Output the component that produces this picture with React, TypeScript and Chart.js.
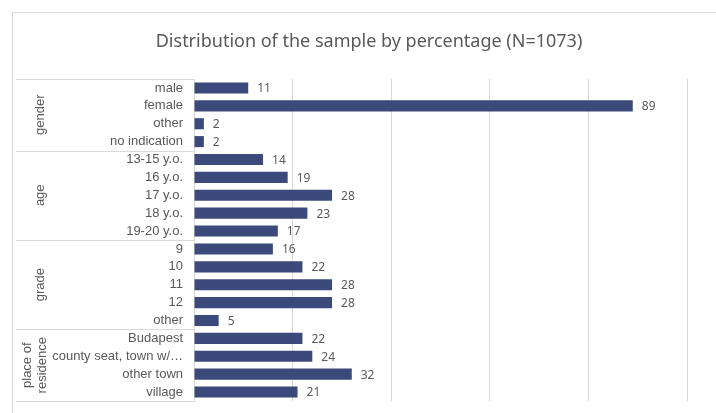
import React, { useEffect, useRef } from "react";
import { Chart, registerables } from "chart.js";

Chart.register(...registerables);

const chartTitle = "Distribution of the sample by percentage (N=1073)";

const categories = [
  "male",
  "female",
  "other",
  "no indication",
  "13-15 y.o.",
  "16 y.o.",
  "17 y.o.",
  "18 y.o.",
  "19-20 y.o.",
  "9",
  "10",
  "11",
  "12",
  "other",
  "Budapest",
  "county seat, town w/…",
  "other town",
  "village",
];

const percentages = [11, 89, 2, 2, 14, 19, 28, 23, 17, 16, 22, 28, 28, 5, 22, 24, 32, 21];

// Outer grouping of the category axis
const groupNames: string[][] = [["gender"], ["age"], ["grade"], ["place of", "residence"]];
const groupSizes = [4, 5, 5, 4];

const xTicks = [0, 20, 40, 60, 80, 100];

const BAR_COLOR = "#3b4a7a";
const LINE_COLOR = "#d9d9d9";
const TEXT_COLOR = "#595959";

const decorations = {
  id: "decorations",
  beforeDraw(chart: any) {
    const { ctx } = chart;
    ctx.save();
    // chart frame
    ctx.strokeStyle = LINE_COLOR;
    ctx.lineWidth = 1;
    ctx.strokeRect(12.5, 12.5, chart.width + 20, chart.height + 20);
    // title
    ctx.fillStyle = TEXT_COLOR;
    ctx.font = "18px 'Noto Sans'";
    ctx.textAlign = "center";
    ctx.textBaseline = "middle";
    ctx.fillText(chartTitle, 369, 42);
    ctx.restore();
  },
  afterDraw(chart: any) {
    const { ctx, chartArea } = chart;
    const yScale = chart.scales.y;
    const left = 16;
    const right = chartArea.left;
    ctx.save();
    ctx.strokeStyle = LINE_COLOR;
    ctx.lineWidth = 1;
    const half = (yScale.getPixelForValue(1) - yScale.getPixelForValue(0)) / 2;
    let start = 0;
    const bounds: number[] = [yScale.getPixelForValue(0) - half];
    groupSizes.forEach((n) => {
      start += n;
      bounds.push(yScale.getPixelForValue(start - 1) + half);
    });
    bounds.forEach((b) => {
      const yy = Math.round(b) + 0.5;
      ctx.beginPath();
      ctx.moveTo(left, yy);
      ctx.lineTo(right, yy);
      ctx.stroke();
    });
    // rotated group names
    ctx.fillStyle = TEXT_COLOR;
    ctx.font = "13px 'Liberation Sans'";
    ctx.textAlign = "center";
    ctx.textBaseline = "middle";
    groupNames.forEach((lines, i) => {
      const cy = (bounds[i] + bounds[i + 1]) / 2;
      const lh = 15;
      const cx = lines.length > 1 ? 34.5 - ((lines.length - 1) * lh) / 2 : 40;
      lines.forEach((line, j) => {
        ctx.save();
        ctx.translate(cx + j * lh, cy);
        ctx.rotate(-Math.PI / 2);
        ctx.fillText(line, 0, 0);
        ctx.restore();
      });
    });
    ctx.restore();
  },
  afterDatasetsDraw(chart: any) {
    const { ctx } = chart;
    const meta = chart.getDatasetMeta(0);
    ctx.save();
    ctx.fillStyle = TEXT_COLOR;
    ctx.font = "12px 'Noto Sans'";
    ctx.textAlign = "left";
    ctx.textBaseline = "middle";
    meta.data.forEach((bar: any, i: number) => {
      ctx.fillText(String(percentages[i]), bar.x + 9, bar.y + 1);
    });
    ctx.restore();
  },
};

export default function App() {
  const canvasRef = useRef<HTMLCanvasElement | null>(null);

  useEffect(() => {
    if (!canvasRef.current) return;
    const chart = new Chart(canvasRef.current, {
      type: "bar",
      data: {
        labels: categories,
        datasets: [
          {
            data: percentages,
            backgroundColor: BAR_COLOR,
            borderWidth: 0,
            barPercentage: 0.62,
            categoryPercentage: 1,
          },
        ],
      },
      options: {
        indexAxis: "y",
        responsive: false,
        animation: false,
        layout: { padding: { top: 79, bottom: 12, left: 16, right: 29 } },
        plugins: {
          legend: { display: false },
          tooltip: { enabled: false },
          title: { display: false },
        },
        scales: {
          x: {
            min: 0,
            max: 100,
            afterBuildTicks(scale: any) {
              scale.ticks = xTicks.map((v) => ({ value: v }));
            },
            afterFit(scale: any) {
              scale.height = 0;
              scale.paddingLeft = 0;
              scale.paddingRight = 0;
            },
            ticks: { display: false },
            grid: { color: LINE_COLOR, drawTicks: false, lineWidth: 1 },
            border: { display: false },
          },
          y: {
            afterFit(scale: any) {
              scale.width = 178;
              scale.paddingTop = 0;
              scale.paddingBottom = 0;
            },
            ticks: {
              color: TEXT_COLOR,
              font: { family: "'Liberation Sans'", size: 13 },
              padding: 11,
              autoSkip: false,
            },
            grid: { display: false, drawTicks: false },
            border: { display: true, color: LINE_COLOR },
          },
        },
      },
      plugins: [decorations],
    });
    return () => chart.destroy();
  }, []);

  return (
    <div style={{ position: "fixed", left: 0, top: 0, width: 716, height: 413, background: "#fff" }}>
      <canvas ref={canvasRef} width={716} height={413} />
    </div>
  );
}
